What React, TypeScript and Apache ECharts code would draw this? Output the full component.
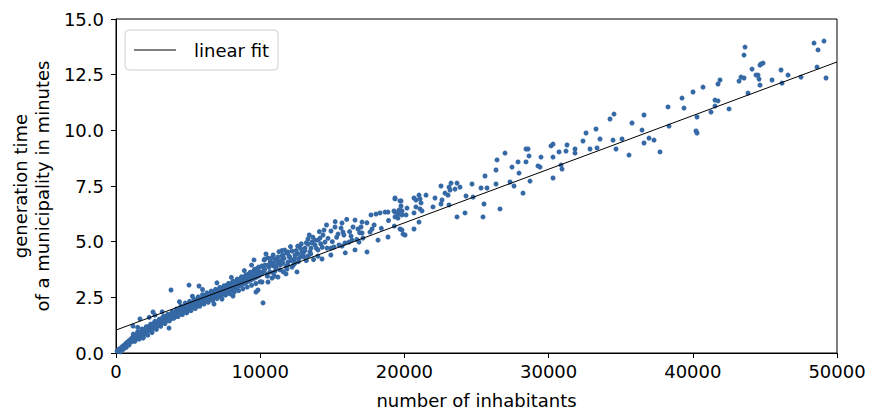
import React, { useEffect, useRef } from "react";
import * as echarts from "echarts";

// Municipalities up to 10000 inhabitants: [inhabitants, minutes]
const smallTowns: number[][] = [
  [80, 0.08], [150, 0.14], [200, 0.1], [260, 0.2], [300, 0.13], [300, 0.05], [350, 0.22], [400, 0.18], [430, 0.28], [480, 0.24], [500, 0.16],
  [520, 0.33], [560, 0.27], [600, 0.36], [640, 0.3], [680, 0.42], [700, 0.35], [700, 0.25], [740, 0.46], [780, 0.4], [820, 0.49],
  [860, 0.43], [900, 0.55], [900, 0.36], [940, 0.47], [980, 0.58], [1000, 0.52],
  [1040, 0.62], [1080, 0.5], [1120, 0.68], [1160, 0.57], [1200, 0.74], [1240, 0.62], [1280, 0.66], [1320, 0.78], [1360, 0.6],
  [1400, 0.72], [1440, 0.84], [1480, 0.7], [1520, 0.78], [1560, 0.88], [1600, 0.73], [1640, 0.82], [1680, 0.95], [1720, 0.77],
  [1760, 0.88], [1800, 0.98], [1840, 0.82], [1880, 0.92], [1920, 1.04], [1960, 0.86], [2000, 0.97],
  [2040, 1.08], [2080, 0.9], [2120, 1.0], [2160, 1.14], [2200, 0.96], [2250, 1.06], [2300, 1.2], [2350, 1.02], [2400, 1.12],
  [2450, 1.26], [2500, 1.08], [2550, 1.19], [2600, 1.32], [2650, 1.14], [2700, 1.25], [2750, 1.38], [2800, 1.18], [2850, 1.3],
  [2900, 1.42], [2950, 1.24], [3000, 1.36],
  [3050, 1.48], [3100, 1.3], [3150, 1.42], [3200, 1.56], [3250, 1.36], [3300, 1.48], [3350, 1.6], [3400, 1.42], [3450, 1.54],
  [3500, 1.66], [3560, 1.47], [3620, 1.58], [3680, 1.7], [3740, 1.52], [3800, 1.64], [3860, 1.76], [3920, 1.57], [3980, 1.69],
  [4050, 1.82], [4110, 1.62], [4170, 1.74], [4230, 1.9], [4290, 1.7], [4350, 1.84], [4410, 1.96], [4470, 1.76], [4530, 1.88],
  [4590, 2.02], [4650, 1.82], [4710, 1.94], [4770, 2.08], [4830, 1.86], [4890, 1.99], [4950, 2.12],
  [5020, 1.92], [5080, 2.05], [5140, 2.18], [5200, 1.98], [5260, 2.12], [5320, 2.26], [5380, 2.04], [5440, 2.17], [5500, 2.32],
  [5560, 2.1], [5620, 2.24], [5680, 2.38], [5740, 2.16], [5800, 2.3], [5860, 2.44], [5920, 2.22], [5980, 2.36],
  [6050, 2.5], [6110, 2.28], [6170, 2.42], [6230, 2.58], [6290, 2.34], [6350, 2.48], [6410, 2.64], [6470, 2.4], [6530, 2.55],
  [6590, 2.7], [6650, 2.44], [6710, 2.6], [6770, 2.75], [6830, 2.5], [6890, 2.66], [6950, 2.8],
  [7020, 2.54], [7080, 2.7], [7140, 2.86], [7200, 2.6], [7260, 2.76], [7320, 2.92], [7380, 2.66], [7440, 2.82], [7500, 2.98],
  [7560, 2.7], [7620, 2.88], [7680, 3.04], [7740, 2.76], [7800, 2.93], [7860, 3.08], [7920, 2.82], [7980, 2.99],
  [8040, 3.14], [8100, 2.86], [8160, 3.02], [8220, 3.2], [8280, 2.92], [8340, 3.08], [8400, 3.26], [8460, 2.98], [8520, 3.14],
  [8580, 3.32], [8640, 3.04], [8700, 3.2], [8760, 3.38], [8820, 3.1], [8880, 3.26], [8940, 3.44],
  [9000, 3.16], [9060, 3.34], [9120, 3.52], [9180, 3.22], [9240, 3.4], [9300, 3.58], [9360, 3.28], [9420, 3.46], [9480, 3.64],
  [9540, 3.34], [9600, 3.52], [9660, 3.7], [9720, 3.4], [9780, 3.58], [9840, 3.76], [9900, 3.46], [9960, 3.64],
  [3814, 2.83], [5063, 3.05], [5756, 3.01], [1664, 1.53], [1179, 1.21], [1872, 0.67], [3676, 1.12], [2566, 1.84],
  [6796, 2.2], [7351, 2.42], [8114, 2.56], [9709, 2.74], [9570, 4.18],
];

// Upper and lower edge of the dense band below 10000 inhabitants
const smallTownsEdges: number[][] = [
  [1200, 0.85], [1500, 0.95], [1800, 1.08], [2100, 1.18], [2400, 1.3], [2700, 1.42], [3000, 1.52], [3300, 1.64], [3600, 1.74],
  [3900, 1.86], [4200, 1.98], [4500, 2.12], [4800, 2.24], [5100, 2.32], [5400, 2.42], [5700, 2.52], [6000, 2.62], [6300, 2.7],
  [6600, 2.78], [6900, 2.86], [7200, 2.94], [7500, 3.02], [7800, 3.12], [8100, 3.22], [8400, 3.32], [8700, 3.42], [9000, 3.5],
  [9300, 3.62], [9600, 3.74], [9900, 3.86],
  [1300, 0.52], [1600, 0.62], [1900, 0.7], [2200, 0.8], [2500, 0.92], [2800, 1.06], [3100, 1.2], [3400, 1.32], [3700, 1.44],
  [4000, 1.56], [4300, 1.64], [4600, 1.72], [4900, 1.8], [5200, 1.9], [5500, 2.0], [5800, 2.1], [6100, 2.2], [6400, 2.28],
  [6700, 2.36], [7000, 2.44], [7300, 2.52], [7600, 2.6], [7900, 2.66], [8200, 2.74], [8500, 2.8], [8800, 2.88], [9100, 2.96],
  [9400, 3.04], [9700, 3.12], [10000, 3.2],
  [2300, 1.6], [3200, 1.85], [4400, 2.3], [5300, 2.55], [6000, 2.85], [7000, 3.15], [8000, 3.4], [8900, 3.7], [9400, 3.95],
  [1500, 1.15], [2700, 1.7],
];

// Municipalities from 10000 to 20000 inhabitants
const midTowns: number[][] = [
  [10194, 2.25], [10264, 4.18], [10194, 3.86], [10194, 3.64],
  [19349, 6.92], [19765, 6.83], [19765, 6.6], [19765, 6.38], [18863, 6.33], [19279, 6.38], [19557, 6.24], [19557, 6.06],
  [19835, 5.52], [19904, 5.34], [18655, 6.33], [18308, 6.29], [18031, 6.24], [17684, 6.2], [18863, 5.21], [18170, 5.07],
  [17407, 4.54], [16575, 5.97], [16575, 4.63], [17060, 5.88], [16991, 5.66], [16783, 5.57], [16436, 5.66], [17754, 5.57],
  [17615, 5.43], [17060, 5.39], [17129, 5.16], [16367, 5.07], [16158, 4.98], [16852, 4.98], [15673, 5.84], [15604, 5.61],
  [15742, 5.43], [15396, 5.34], [15188, 5.66], [14910, 5.48], [15881, 4.94], [15673, 4.8], [15465, 4.85], [15118, 4.76],
  [14910, 4.71], [14633, 4.71], [14425, 5.52], [14355, 5.3], [14147, 5.16], [14009, 5.07], [13800, 5.07], [14494, 4.98],
  [13315, 5.12], [13593, 4.98], [13315, 4.89], [13523, 4.71], [13107, 4.71], [13800, 4.85], [14009, 4.63], [14286, 4.22],
  [12899, 4.54], [12622, 4.45], [12414, 4.4], [12206, 4.58], [13038, 4.31], [13315, 4.36], [12414, 4.04], [12552, 3.64],
  [11928, 4.54], [11859, 4.49], [11581, 4.4], [11512, 4.36], [11235, 4.31], [11027, 4.22], [10819, 4.27], [10541, 4.27],
  [10333, 4.22], [11928, 4.09], [11581, 4.04], [11235, 4.09], [10888, 4.04], [10541, 3.95], [10333, 3.95], [10125, 3.91],
  [9848, 3.82], [9640, 3.77], [12206, 3.86], [11859, 3.77], [11373, 3.73], [11027, 3.68], [10680, 3.64], [10472, 3.55],
  [11790, 3.55], [11235, 3.41], [10819, 3.37], [10541, 3.19], [10125, 3.19], [9848, 2.83],
  [10700, 4.1], [10950, 3.9], [11150, 4.15], [11400, 3.95], [11650, 4.25], [11800, 3.88], [12050, 4.3], [12300, 4.18],
  [12500, 4.6], [12700, 4.25], [12800, 4.7], [13000, 4.5], [13200, 4.95], [13450, 4.55], [13650, 5.2], [13900, 4.7],
  [14200, 4.9], [14700, 5.15], [15000, 5.0], [15300, 5.2], [15800, 5.3], [16200, 5.45], [16700, 5.1], [10400, 4.45],
  [11300, 4.55], [11700, 4.62], [12100, 4.78], [12850, 4.9], [13400, 5.3], [14100, 5.45], [14600, 5.75], [15200, 5.9],
  [16000, 6.0], [16300, 5.25], [16900, 5.4], [17400, 5.85], [17900, 5.75], [18400, 5.6], [18900, 5.95], [19300, 5.7],
  [13700, 4.2], [12300, 3.95], [11000, 3.45], [14900, 4.4], [15900, 4.5],
  [19349, 6.96], [19349, 6.33], [19349, 6.11], [19695, 6.83], [19626, 6.42], [19835, 6.38], [19835, 6.2], [19695, 5.57],
  [10100, 3.55], [10300, 3.75], [10500, 3.45], [10600, 3.85], [10750, 3.95], [10900, 3.6], [11100, 3.85], [11200, 4.0],
  [11450, 4.15], [11600, 3.65], [11900, 3.95], [12000, 4.35], [12150, 4.15], [12400, 4.25], [12650, 4.1], [12900, 4.35],
  [13100, 4.6], [13500, 4.45], [13200, 4.15], [14300, 4.75], [14000, 4.35], [10900, 4.4], [11500, 4.6], [12600, 4.8],
  [13600, 4.95],
];

// Municipalities above 20000 inhabitants
const largeTowns: number[][] = [
  [20112, 6.2], [20181, 6.51], [20042, 5.3], [20666, 5.57], [20666, 6.96], [20805, 6.87], [21013, 7.09], [21082, 6.92],
  [21152, 6.74], [20805, 6.56], [21082, 6.47], [21221, 6.38], [20666, 6.29], [21013, 5.88], [21498, 7.09], [22122, 6.96],
  [21984, 6.56], [22538, 6.69], [22608, 6.87], [22538, 7.5], [22816, 7.18], [23024, 7.09], [23094, 7.45], [23163, 7.32],
  [23232, 7.63], [23510, 7.36], [23649, 7.63], [23856, 7.45], [23094, 6.65], [23649, 6.11], [24203, 6.29], [24273, 7.05],
  [24758, 7.0], [24689, 7.59], [25313, 7.41], [25521, 6.69], [25451, 6.11], [25590, 7.95], [25729, 7.41], [26353, 8.22],
  [26353, 7.59], [26422, 8.67], [26630, 6.47], [26977, 8.98], [27324, 7.68], [27463, 8.35], [27601, 7.5], [27879, 8.58],
  [27948, 8.08], [28225, 7.18], [28434, 9.16], [28572, 9.16], [28434, 8.58], [28642, 8.85], [28711, 7.72], [29266, 8.4],
  [29474, 8.8], [29405, 8.35], [30306, 7.86], [30306, 8.8], [30167, 9.3], [30306, 9.38], [30722, 9.03], [30861, 8.44],
  [30930, 8.26], [31208, 9.07], [31277, 9.34], [31832, 9.16], [31832, 8.98], [32386, 9.52], [32595, 9.88], [32872, 9.16],
  [33288, 10.06], [33358, 9.21], [33565, 9.61], [34259, 10.51], [34536, 10.73], [34467, 9.56], [34675, 9.16], [35091, 9.61],
  [35577, 8.89], [35785, 10.33], [36478, 10.01], [36617, 10.69], [36617, 9.43], [36964, 9.65], [37310, 9.56], [37726, 9.03],
  [38281, 11.05], [38351, 10.19], [39252, 11.45], [39391, 11.0], [40015, 11.72], [40292, 10.6], [40223, 9.97], [40292, 9.88],
  [40708, 11.94], [41263, 10.82], [41540, 11.09], [41540, 11.36], [41748, 11.32], [41748, 12.08], [41887, 12.26],
  [42512, 10.96], [43205, 12.21], [43344, 12.39], [43552, 12.35], [43552, 13.38], [43621, 13.74], [43829, 11.67],
  [44107, 12.75], [44384, 12.48], [44523, 12.48], [44593, 12.3], [44661, 12.03], [44661, 12.93], [44731, 12.98],
  [44869, 13.02], [45494, 12.26], [46118, 12.71], [46187, 12.12], [46603, 12.48], [47505, 12.39], [48406, 13.92],
  [48684, 13.61], [48614, 12.84], [49100, 14.01], [49239, 12.35],
];

const fitX = [0, 50000];
const fitY = [1.03, 13.07];

const xTicks = [0, 10000, 20000, 30000, 40000, 50000];
const yTicks = [0, 2.5, 5, 7.5, 10, 12.5, 15];

const FONT = "DejaVu Sans";

export default function App() {
  const ref = useRef<HTMLDivElement>(null);
  useEffect(() => {
    if (!ref.current) return;
    const chart = echarts.init(ref.current, undefined, { renderer: "svg" });
    const points = [...smallTowns, ...smallTownsEdges, ...midTowns, ...largeTowns];
    chart.setOption({
      animation: false,
      backgroundColor: "#ffffff",
      textStyle: { fontFamily: FONT },
      grid: {
        left: 116,
        right: 32,
        top: 19,
        bottom: 61,
        show: true,
        borderColor: "#000000",
        borderWidth: 1,
        backgroundColor: "transparent",
      },
      legend: {
        left: 125,
        top: 30,
        data: [{ name: "linear fit", icon: "rect" }],
        orient: "vertical",
        padding: [11, 9, 11, 9],
        itemWidth: 42,
        itemHeight: 1,
        borderColor: "#d0d0d0",
        borderWidth: 1,
        borderRadius: 4,
        backgroundColor: "rgba(255,255,255,0.8)",
        textStyle: { fontFamily: FONT, fontSize: 18, color: "#000", padding: [0, 0, 0, 13] },
      },
      xAxis: {
        type: "value",
        min: xTicks[0],
        max: xTicks[xTicks.length - 1],
        interval: xTicks[1] - xTicks[0],
        name: "number of inhabitants",
        nameLocation: "middle",
        nameGap: 38,
        nameTextStyle: { fontFamily: FONT, fontSize: 18, color: "#000" },
        axisLine: { show: true, lineStyle: { color: "#000", width: 1 } },
        axisTick: { show: true, length: 5, lineStyle: { color: "#000" } },
        axisLabel: { fontFamily: FONT, fontSize: 18, color: "#000", margin: 9, formatter: (v: number) => String(v) },
        splitLine: { show: false },
      },
      yAxis: {
        type: "value",
        min: yTicks[0],
        max: yTicks[yTicks.length - 1],
        interval: yTicks[1] - yTicks[0],
        name: "generation time\nof a municipality in minutes",
        nameLocation: "middle",
        nameGap: 60,
        nameRotate: 90,
        nameTextStyle: { fontFamily: FONT, fontSize: 18, color: "#000", lineHeight: 22 },
        axisLine: { show: true, lineStyle: { color: "#000", width: 1 } },
        axisTick: { show: true, length: 5, lineStyle: { color: "#000" } },
        axisLabel: {
          fontFamily: FONT,
          fontSize: 18,
          color: "#000",
          margin: 12,
          formatter: (v: number) => v.toFixed(1),
        },
        splitLine: { show: false },
      },
      series: [
        {
          type: "scatter",
          name: "municipalities",
          data: points,
          symbol: "circle",
          symbolSize: 5,
          itemStyle: { color: "#3569a5", opacity: 1 },
          z: 2,
        },
        {
          type: "line",
          name: "linear fit",
          data: fitX.map((x, i) => [x, fitY[i]]),
          symbol: "none",
          showSymbol: false,
          lineStyle: { color: "#000000", width: 1 },
          itemStyle: { color: "#000000" },
          z: 3,
        },
      ],
    });
    return () => chart.dispose();
  }, []);
  return (
    <div
      ref={ref}
      style={{ position: "fixed", left: 0, top: 0, width: 869, height: 414, background: "#fff" }}
    />
  );
}
